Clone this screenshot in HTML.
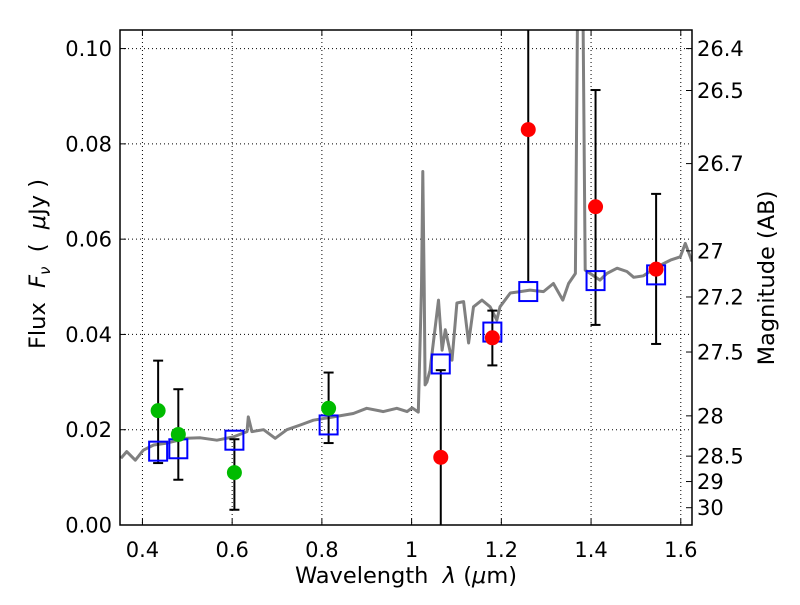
<!DOCTYPE html>
<html><head><meta charset="utf-8"><style>
body{margin:0;background:#fff;}
svg text{font-family:"DejaVu Sans","Liberation Sans",sans-serif;fill:#000;}
</style></head><body>
<svg id="c" width="800" height="600" xmlns="http://www.w3.org/2000/svg"></svg>
<script>
const specLam=[0.352,0.365,0.384,0.402,0.425,0.454,0.499,0.529,0.566,0.603,0.633,0.636,0.644,0.67,0.696,0.722,0.752,0.781,0.826,0.87,0.9,0.937,0.967,0.99,1.001,1.015,1.022,1.025,1.028,1.03,1.034,1.041,1.06,1.068,1.075,1.09,1.101,1.116,1.127,1.138,1.157,1.175,1.19,1.197,1.22,1.242,1.264,1.294,1.316,1.337,1.35,1.365,1.371,1.376,1.381,1.387,1.42,1.435,1.458,1.48,1.495,1.517,1.547,1.577,1.599,1.61,1.625];
const specFlux=[0.014,0.0154,0.0136,0.0157,0.0168,0.0172,0.0182,0.0183,0.0178,0.0185,0.0196,0.0227,0.0196,0.02,0.0182,0.02,0.021,0.022,0.0227,0.0234,0.0245,0.0238,0.0245,0.0238,0.0246,0.0237,0.05,0.0742,0.05,0.0294,0.03,0.0325,0.0472,0.0367,0.041,0.0346,0.0466,0.0469,0.0382,0.0458,0.0472,0.0458,0.043,0.0458,0.0487,0.049,0.0493,0.049,0.0507,0.0472,0.0507,0.0528,0.12,0.12,0.12,0.0535,0.0514,0.0528,0.0539,0.0532,0.052,0.0523,0.0542,0.0556,0.0563,0.0591,0.0553];
const greenLam=[0.435,0.48,0.605,0.815];
const greenFlux=[0.024,0.019,0.011,0.0245];
const greenHi=[0.0345,0.0285,0.018,0.032];
const greenLo=[0.013,0.0095,0.0032,0.0172];
const redLam=[1.065,1.18,1.26,1.41,1.545];
const redFlux=[0.0142,0.0393,0.083,0.0668,0.0537];
const redHi=[0.0325,0.045,0.2,0.0913,0.0695];
const redLo=[-0.01,0.0335,0.051,0.042,0.038];
const modelLam=[0.435,0.48,0.605,0.815,1.065,1.18,1.26,1.41,1.545];
const modelFlux=[0.0155,0.016,0.0178,0.021,0.0338,0.0405,0.049,0.0513,0.0525];
const xTicks=[0.4,0.6,0.8,1.0,1.2,1.4,1.6];
const xTickLabels=["0.4","0.6","0.8","1","1.2","1.4","1.6"];
const yTicks=[0,0.02,0.04,0.06,0.08,0.10];
const yTickLabels=["0.00","0.02","0.04","0.06","0.08","0.10"];
const magTicks=[26.4,26.5,26.7,27,27.2,27.5,28,28.5,29,30];
const magLabels=["26.4","26.5","26.7","27","27.2","27.5","28","28.5","29","30"];

const L=120,R=692,T=30,B=525,x0=0.35,x1=1.625,y0=0,y1=0.1039;
const X=v=>L+(v-x0)/(x1-x0)*(R-L);
const Y=v=>B-(v-y0)/(y1-y0)*(B-T);
const NS="http://www.w3.org/2000/svg";
const svg=document.getElementById('c');
function mk(t,a,p){const e=document.createElementNS(NS,t);for(const k in a)e.setAttribute(k,a[k]);(p||svg).appendChild(e);return e;}
const defs=mk('defs',{});const cp=mk('clipPath',{id:'clip'},defs);mk('rect',{x:L,y:T,width:R-L,height:B-T},cp);

const grid=mk('g',{});


xTicks.forEach(v=>mk('line',{x1:X(v),x2:X(v),y1:T,y2:B,stroke:'#000','stroke-width':1,'stroke-dasharray':'1,3'},grid));
yTicks.forEach(v=>mk('line',{x1:L,x2:R,y1:Y(v),y2:Y(v),stroke:'#000','stroke-width':1,'stroke-dasharray':'1,3'},grid));

const plot=mk('g',{'clip-path':'url(#clip)'});
let d='';specLam.forEach((v,i)=>{d+=(i?'L':'M')+X(v).toFixed(1)+','+Y(specFlux[i]).toFixed(1);});
const sp=mk('path',{d:d,fill:'none',stroke:'#808080','stroke-width':3,'stroke-linejoin':'round'},plot);



function errbar(lam,hi,lo,name){
  const g=mk('g',{},plot);
  
  
  mk('line',{x1:X(lam),x2:X(lam),y1:Y(hi),y2:Y(lo),stroke:'#000','stroke-width':2},g);
  [hi,lo].forEach(v=>mk('line',{x1:X(lam)-5,x2:X(lam)+5,y1:Y(v),y2:Y(v),stroke:'#000','stroke-width':2},g));
}
greenLam.forEach((v,i)=>errbar(v,greenHi[i],greenLo[i],'green-errorbar'));
redLam.forEach((v,i)=>errbar(v,redHi[i],redLo[i],'red-errorbar'));
modelLam.forEach((v,i)=>{
  const r=mk('rect',{x:X(v)-9,y:Y(modelFlux[i])-9.5,width:18,height:19,fill:'none',stroke:'#0000ff','stroke-width':2},plot);
  
  
});
greenLam.forEach((v,i)=>{
  const c=mk('circle',{cx:X(v),cy:Y(greenFlux[i]),r:7.5,fill:'#00bb00'},plot);
  
  
});
redLam.forEach((v,i)=>{
  const c=mk('circle',{cx:X(v),cy:Y(redFlux[i]),r:7.5,fill:'#ff0000'},plot);
  
  
});

const fr=mk('rect',{x:L,y:T,width:R-L,height:B-T,fill:'none',stroke:'#000','stroke-width':1.5});


xTicks.forEach((v,i)=>{
  mk('line',{x1:X(v),x2:X(v),y1:B,y2:B-6,stroke:'#000'});
  mk('line',{x1:X(v),x2:X(v),y1:T,y2:T+6,stroke:'#000'});
  const t=mk('text',{x:X(v),y:B+32,'text-anchor':'middle','font-size':21});t.textContent=xTickLabels[i];
  
  
});
yTicks.forEach((v,i)=>{
  mk('line',{x1:L,x2:L+6,y1:Y(v),y2:Y(v),stroke:'#000'});
  const t=mk('text',{x:L-8,y:Y(v)+7.5,'text-anchor':'end','font-size':21});t.textContent=yTickLabels[i];
  
  
});
magTicks.forEach((m,i)=>{
  const f=Math.pow(10,(23.9-m)/2.5);const y=Y(f);
  mk('line',{x1:R,x2:R-6,y1:y,y2:y,stroke:'#000'});
  const t=mk('text',{x:R+5,y:y+7.5,'font-size':21});t.textContent=magLabels[i];
  
  
});
let t=mk('text',{x:406,y:583,'text-anchor':'middle','font-size':22.5});
t.innerHTML='Wavelength&#160;&#160;<tspan font-style="italic">λ</tspan> (<tspan font-style="italic">μ</tspan>m)';


t=mk('text',{x:0,y:0,'text-anchor':'middle','font-size':22.5,transform:'translate(45,264) rotate(-90)'});
t.innerHTML='Flux&#160;&#160;<tspan font-style="italic">F</tspan><tspan font-style="italic" font-size="15" dy="5">ν</tspan><tspan dy="-5">&#160;&#160;(&#160;&#160;</tspan><tspan font-style="italic">μ</tspan>Jy )';


t=mk('text',{x:0,y:0,'text-anchor':'middle','font-size':22.5,transform:'translate(774,278) rotate(-90)'});
t.textContent='Magnitude (AB)';


</script>
</body></html>
